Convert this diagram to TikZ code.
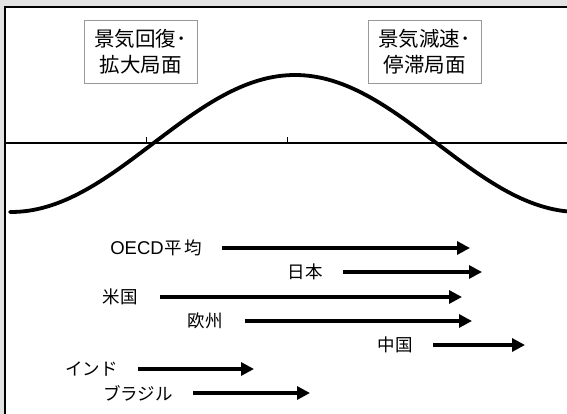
\documentclass[tikz,border=0pt]{standalone}
\usepackage{fontspec}
\setmainfont{Noto Sans CJK JP}
\newfontfamily\latinsans{Liberation Sans}
\usetikzlibrary{arrows.meta}
\tikzset{
  lab/.style={font=\fontsize{17.5}{20}\selectfont, inner sep=0pt, anchor=east},
  arr/.style={line width=3.2pt, -{Triangle[length=13pt,width=13pt]}},
  phase/.style={draw=gray!80, line width=0.8pt, font=\fontsize{20.5}{26}\selectfont, align=center, minimum width=113pt, minimum height=63pt, inner sep=0pt},
}
\begin{document}
\begin{tikzpicture}[x=1pt,y=-1pt]
\useasboundingbox (0,0) rectangle (567,414);
\fill[white] (0,0) rectangle (567,414);
\fill[gray!22] (0,0) rectangle (4,414);
\fill[gray!22] (0,0) rectangle (567,6.5);
\draw[line width=1.6pt] (4.8,414) -- (4.8,7.3) -- (567,7.3);
% axis
\draw[line width=1.8pt] (5,143) -- (567,143);
\draw[line width=0.8pt] (146,143) -- (146,137.5);
\draw[line width=0.8pt] (287,143) -- (287,137.5);
% curve
\draw[line width=3.8pt, line cap=round] plot[domain=10:567, samples=120] (\x, {143.5-68.5*cos(((\x-295)/284)*180)});
% phase boxes
\node[phase] (b1) at (140.5,51.5) {景気回復･\\拡大局面};
\node[phase] (b2) at (424.5,51.5) {景気減速･\\停滞局面};
% labels and arrows
\node[lab] (oecd) at (202,248) {{\latinsans\fontsize{18.5}{20}\selectfont OECD}\hspace{1pt}平\hspace{2pt}均};
\coordinate (oecdE) at (470,248);
\draw[arr] (oecd.east) ++(20,0) -- (oecdE);
\node[lab] (jp) at (323,272) {日本};
\coordinate (jpE) at (482,272);
\draw[arr] (jp.east) ++(20,0) -- (jpE);
\node[lab] (us) at (138,297) {米国};
\coordinate (usE) at (462,297);
\draw[arr] (us.east) ++(22,0) -- (usE);
\node[lab] (eu) at (223,321) {欧州};
\coordinate (euE) at (472,321);
\draw[arr] (eu.east) ++(22,0) -- (euE);
\node[lab] (cn) at (413,345) {中国};
\coordinate (cnE) at (525,345);
\draw[arr] (cn.east) ++(20,0) -- (cnE);
\node[lab] (in) at (118,369) {インド};
\coordinate (inE) at (254,369);
\draw[arr] (in.east) ++(20,0) -- (inE);
\node[lab] (br) at (173,393) {ブラジル};
\coordinate (brE) at (310,393);
\draw[arr] (br.east) ++(20,0) -- (brE);
\end{tikzpicture}
\end{document}
